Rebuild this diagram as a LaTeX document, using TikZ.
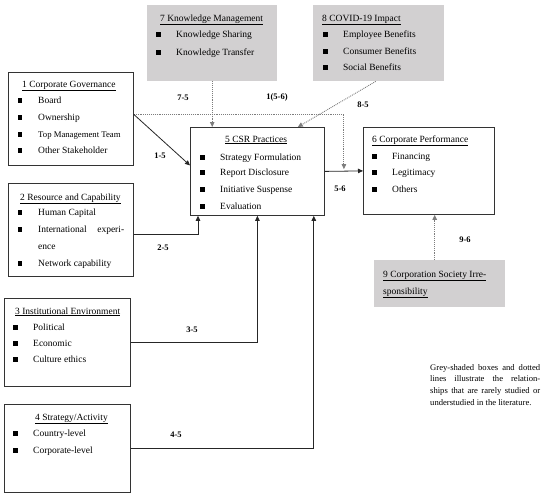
\documentclass[tikz,border=0pt]{standalone}
\usepackage{fontspec}
\setmainfont{Liberation Serif}
\usetikzlibrary{arrows.meta}
\usetikzlibrary{positioning}
\definecolor{boxgrey}{RGB}{210,208,209}
\definecolor{dotgrey}{RGB}{125,125,125}
\newcommand{\itm}[1]{\makebox[20pt][l]{\rule[0.4pt]{4.3pt}{4.3pt}}#1}
\tikzset{box/.style = {draw = black!80, line width = 0.8pt, anchor = north west, inner sep = 0},
         greybox/.style = {fill = boxgrey, anchor = north west, inner sep = 0},
         txt/.style = {anchor = base west, inner sep = 0, font = \fontsize{9.5}{11}\selectfont},
         lbl/.style = {inner sep = 0, font = \fontsize{8.5}{10}\selectfont\bfseries},
         solidarrow/.style = {black!85, line width = 0.8pt, -{Triangle[length = 5pt, width = 4.5pt]}},
         dotarrow/.style = {dotgrey, line width = 0.9pt, densely dotted, -{Triangle[length = 5pt, width = 4.5pt]}}}

\begin{document}
\begin{tikzpicture}[x = 1pt, y = -1pt]
    \useasboundingbox (0, 0) rectangle (550, 499);

    % boxes
    \node[greybox, minimum width = 130, minimum height = 76] (know) at (147, 5) {};
    \node[greybox, minimum width = 131, minimum height = 76] (covid) at (313, 5) {};
    \node[greybox, minimum width = 131, minimum height = 47] (irr) at (374, 260) {};
    \node[box, minimum width = 125, minimum height = 93] (gov) at (8, 72) {};
    \node[box, minimum width = 125, minimum height = 93] (res) at (8, 183) {};
    \node[box, minimum width = 126, minimum height = 88] (inst) at (4, 298) {};
    \node[box, minimum width = 126, minimum height = 88] (strat) at (4, 404) {};
    \node[box, minimum width = 134, minimum height = 88] (csr) at (190, 127) {};
    \node[box, minimum width = 131, minimum height = 87] (perf) at (363, 127) {};

    % 1 Corporate Governance
    \node[txt] (govt) at (22, 87) {\underline{1 Corporate Governance}};
    \node[txt] (gov1) at (18, 103) {\itm{Board}};
    \node[txt] (gov2) at (18, 120) {\itm{Ownership}};
    \node[txt, font = \fontsize{8.7}{10}\selectfont] (gov3) at (18, 137) {\itm{Top Management Team}};
    \node[txt] (gov4) at (18, 153) {\itm{Other Stakeholder}};

    % 2 Resource and Capability
    \node[txt] (rest) at (20, 200) {\underline{2 Resource and Capability}};
    \node[txt] (res1) at (18, 215) {\itm{Human Capital}};
    \node[txt] (res2) at (18, 232) {\itm{\makebox[86pt][l]{International\hfill experi-}}};
    \node[txt] (res3) at (38, 249) {ence};
    \node[txt] (res4) at (18, 266) {\itm{Network capability}};

    % 3 Institutional Environment
    \node[txt] (instt) at (15, 314) {\underline{3 Institutional Environment}};
    \node[txt] (inst1) at (13, 330) {\itm{Political}};
    \node[txt] (inst2) at (13, 346) {\itm{Economic}};
    \node[txt] (inst3) at (13, 362) {\itm{Culture ethics}};

    % 4 Strategy/Activity
    \node[txt] (stratt) at (35, 420) {\underline{4 Strategy/Activity}};
    \node[txt] (strat1) at (13, 436) {\itm{Country-level}};
    \node[txt] (strat2) at (13, 453) {\itm{Corporate-level}};

    % 5 CSR Practices
    \node[txt] (csrt) at (225, 142) {\underline{5 CSR Practices}};
    \node[txt] (csr1) at (200, 160) {\itm{Strategy Formulation}};
    \node[txt] (csr2) at (200, 175) {\itm{Report Disclosure}};
    \node[txt] (csr3) at (200, 192) {\itm{Initiative Suspense}};
    \node[txt] (csr4) at (200, 209) {\itm{Evaluation}};

    % 6 Corporate Performance
    \node[txt] (perft) at (372, 142) {\underline{6 Corporate Performance}};
    \node[txt] (perf1) at (372, 159) {\itm{Financing}};
    \node[txt] (perf2) at (372, 175) {\itm{Legitimacy}};
    \node[txt] (perf3) at (372, 192) {\itm{Others}};

    % 7 Knowledge Management
    \node[txt] (knowt) at (160, 21) {\underline{7 Knowledge Management}};
    \node[txt] (know1) at (156, 37) {\itm{Knowledge Sharing}};
    \node[txt] (know2) at (156, 55) {\itm{Knowledge Transfer}};

    % 8 COVID-19 Impact
    \node[txt] (covidt) at (322, 21) {\underline{8 COVID-19 Impact}};
    \node[txt] (covid1) at (323, 37) {\itm{Employee Benefits}};
    \node[txt] (covid2) at (323, 54) {\itm{Consumer Benefits}};
    \node[txt] (covid3) at (323, 70) {\itm{Social Benefits}};

    % 9 Corporation Society Irresponsibility
    \node[txt] (irrt) at (383, 277) {\underline{9 Corporation Society Irre-}};
    \node[txt] (irrt2) at (383, 294) {\underline{sponsibility}};

    % legend
    \node[anchor = north west, inner sep = 0, text width = 110pt, align = justify,
          font = \fontsize{8.6}{11.7}\selectfont\parindent0pt] (legend) at (430, 364)
        {Grey-shaded boxes and dotted\linebreak lines illustrate the relation-\linebreak ships that are rarely studied or\linebreak understudied in the literature.};

    % connectors
    \path (csr.east) -- (perf.west) coordinate[midway] (m56);
    \draw[dotarrow] ([yshift = 4.5pt]gov.east) -| ([yshift = 2pt]m56);
    \draw[dotarrow] (know.south) -- (know.south |- csr.north);
    \draw[dotarrow] ([xshift = -3pt]covid.south) -- ([xshift = -27pt]csr.north east);
    \draw[dotarrow] ([xshift = -5pt]irr.north) -- ([xshift = -5pt]irr.north |- perf.south);
    \draw[solidarrow] ([yshift = 4.5pt]gov.east) -- ([yshift = 6pt]csr.west);
    \draw[solidarrow] (csr.east) -- (perf.west);
    \draw[solidarrow] ([yshift = -4.5pt]res.east) -| ([xshift = 8pt]csr.south west);
    \draw[solidarrow] (inst.east) -| (csr.south);
    \draw[solidarrow] (strat.east) -| ([xshift = -11pt]csr.south east);

    % labels
    \node[lbl] (l75) at (183, 98) {7-5};
    \node[lbl] (l156) at (277, 97) {1(5-6)};
    \node[lbl] (l85) at (363, 105) {8-5};
    \node[lbl] (l15) at (160, 156) {1-5};
    \node[lbl] (l56) at (340, 189) {5-6};
    \node[lbl] (l25) at (163, 248) {2-5};
    \node[lbl] (l35) at (192, 330) {3-5};
    \node[lbl] (l45) at (176, 435) {4-5};
    \node[lbl] (l96) at (465, 240) {9-6};
\end{tikzpicture}
\end{document}
